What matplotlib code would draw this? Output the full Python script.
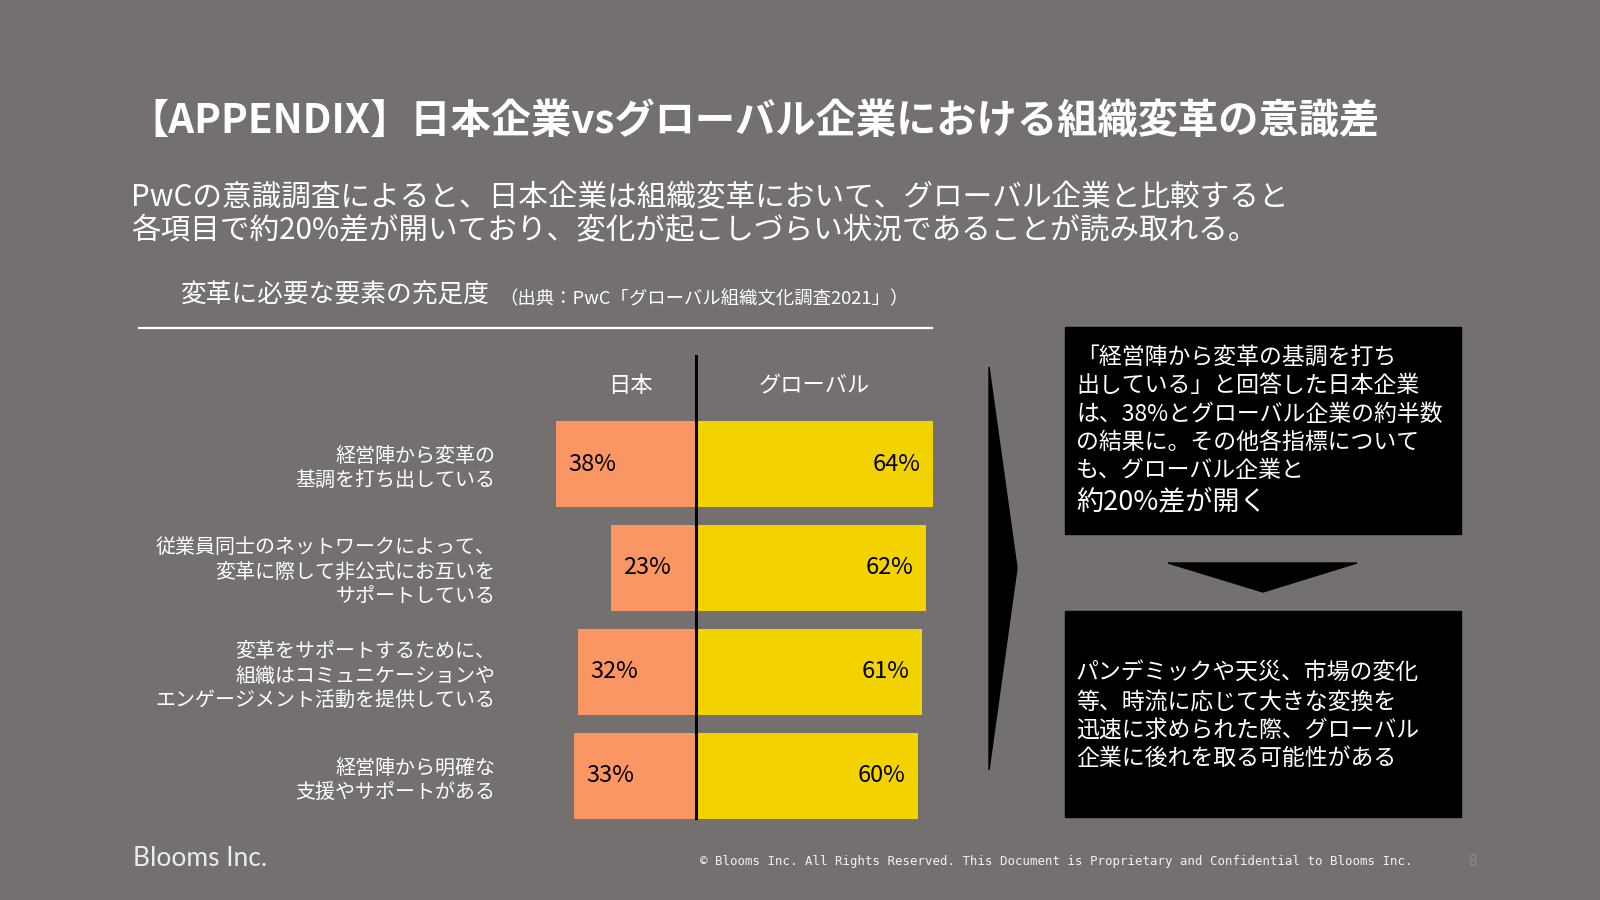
import matplotlib
matplotlib.use("Agg")
import matplotlib.pyplot as plt
from matplotlib import font_manager
from matplotlib.patches import Polygon, Rectangle

# データ
categories = [
    "経営陣から変革の\n基調を打ち出している",
    "従業員同士のネットワークによって、\n変革に際して非公式にお互いを\nサポートしている",
    "変革をサポートするために、\n組織はコミュニケーションや\nエンゲージメント活動を提供している",
    "経営陣から明確な\n支援やサポートがある",
]
japan = [38, 23, 32, 33]
world = [64, 62, 61, 60]
series_names = ["日本", "グローバル"]

title = "【APPENDIX】日本企業vsグローバル企業における組織変革の意識差"
lead = ["PwCの意識調査によると、日本企業は組織変革において、グローバル企業と比較すると",
        "各項目で約20%差が開いており、変化が起こしづらい状況であることが読み取れる。"]
heading = "変革に必要な要素の充足度"
source = "（出典：PwC「グローバル組織文化調査2021」）"
box1 = "「経営陣から変革の基調を打ち\n出している」と回答した日本企業\nは、38%とグローバル企業の約半数\nの結果に。その他各指標について\nも、グローバル企業と"
box1_last = "約20%差が開く"
box2 = "パンデミックや天災、市場の変化\n等、時流に応じて大きな変換を\n迅速に求められた際、グローバル\n企業に後れを取る可能性がある"
footer = "© Blooms Inc. All Rights Reserved. This Document is Proprietary and Confidential to Blooms Inc."

BG = "#747070"
ORANGE = "#FA9664"
YELLOW = "#F2D300"

names = {f.name for f in font_manager.fontManager.ttflist}
narrow = "Liberation Sans Narrow" if "Liberation Sans Narrow" in names else "Noto Sans CJK JP"
JP = [narrow, "Noto Sans CJK JP", "DejaVu Sans"]
plt.rcParams["font.family"] = JP

fig = plt.figure(figsize=(16, 9), dpi=100, facecolor=BG)

# 全体レイアウト用（ピクセル座標）
base = fig.add_axes([0, 0, 1, 1])
base.set_xlim(0, 1600)
base.set_ylim(900, 0)
base.axis("off")

base.text(128, 121, title, fontsize=29, fontweight="bold", color="white", va="center")
base.text(131, 198, lead[0], fontsize=21.3, color="white", va="center")
base.text(131, 230, lead[1], fontsize=21.3, color="white", va="center")
base.text(181, 296, heading, fontsize=18.5, color="white", va="center")
base.text(499, 298, source, fontsize=13.2, color="white", va="center")
base.plot([139, 932], [328, 328], color="white", lw=1.6)

# 右側の矢印とボックス
base.add_patch(Polygon([(989, 367), (1017, 568), (989, 770)], color="black"))
base.add_patch(Rectangle((1065, 327), 396, 207, color="black"))
base.add_patch(Polygon([(1168, 563), (1357, 563), (1263, 592)], color="black"))
base.add_patch(Rectangle((1065, 611), 396, 206, color="black"))
base.text(1076, 346, box1, fontsize=16.5, color="white", va="top", linespacing=1.29)
base.text(1076, 502, box1_last, fontsize=19.5, color="white", va="center")
base.text(1076, 716, box2, fontsize=16.5, color="white", va="center", linespacing=1.29)

base.text(133, 859, "Blooms Inc.", fontsize=19, color="#ececec", va="center",
          family=["Lato", "DejaVu Sans"])
base.text(700, 862, footer, fontsize=8.9, color="#f2f2f2", va="center",
          family=["DejaVu Sans Mono"])
base.text(1473, 861, "8", fontsize=11, color="#8e8a8a", va="center", ha="center")

# 棒グラフ
ax = fig.add_axes([540 / 1600, 1 - 828 / 900, 400 / 1600, 416 / 900])
ax.patch.set_alpha(0)
y = list(range(len(categories)))
ax.barh(y, [-v for v in japan], height=0.82, color=ORANGE)
ax.barh(y, world, height=0.82, color=YELLOW)
ax.set_xlim(-42.2, 65.9)
ax.set_ylim(3.5, -0.5)
for s in ax.spines.values():
    s.set_visible(False)
ax.set_xticks([])
ax.set_yticks(y, categories, fontsize=14.4, color="white", linespacing=1.2)
ax.tick_params(axis="y", length=0, pad=32)
ax.plot([0, 0], [-1.04, 3.4], color="black", lw=2.2, clip_on=False)

for i, (j, w) in enumerate(zip(japan, world)):
    ax.annotate(f"{j}%", (-j, i), xytext=(9, 0), textcoords="offset points",
                ha="left", va="center", fontsize=17, color="black")
    ax.annotate(f"{w}%", (w, i), xytext=(-9, 0), textcoords="offset points",
                ha="right", va="center", fontsize=17, color="black")

ax.text(-17.8, -0.75, series_names[0], fontsize=16, color="white", ha="center", va="center")
ax.text(32, -0.75, series_names[1], fontsize=16, color="white", ha="center", va="center")

fig.savefig("out.png", dpi=100, facecolor=BG)
